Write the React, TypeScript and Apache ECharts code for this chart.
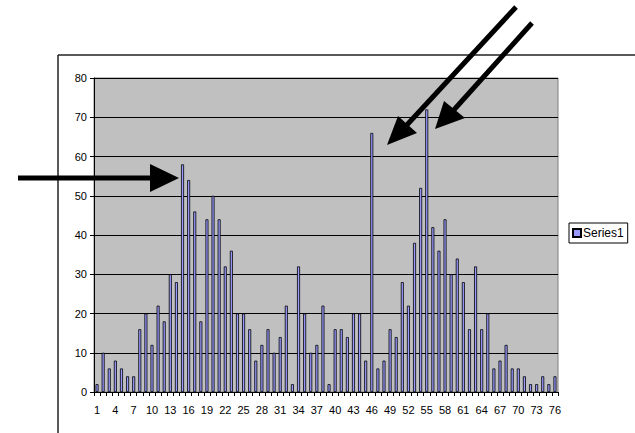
import React, { useEffect, useRef } from "react";
import * as echarts from "echarts";

const categories: string[] = Array.from({ length: 76 }, (_, i) => String(i + 1));
const seriesName = "Series1";
const series1: number[] = [
  2, 10, 6, 8, 6, 4, 4, 16, 20, 12,
  22, 18, 30, 28, 58, 54, 46, 18, 44, 50,
  44, 32, 36, 20, 20, 16, 8, 12, 16, 10,
  14, 22, 2, 32, 20, 10, 12, 22, 2, 16,
  16, 14, 20, 20, 8, 66, 6, 8, 16, 14,
  28, 22, 38, 52, 72, 42, 36, 44, 30, 34,
  28, 16, 32, 16, 20, 6, 8, 12, 6, 6,
  4, 2, 2, 4, 2, 4,
];
const yTicks = { min: 0, max: 80, interval: 10 };

const FONT = "Liberation Sans";

export default function App() {
  const ref = useRef<HTMLDivElement>(null);
  useEffect(() => {
    if (!ref.current) return;
    const chart = echarts.init(ref.current, undefined, { renderer: "svg" });
    chart.setOption({
      animation: false,
      backgroundColor: "#ffffff",
      textStyle: { fontFamily: FONT },
      grid: {
        left: 94,
        top: 78,
        width: 464,
        height: 314,
        show: true,
        backgroundColor: "#c0c0c0",
        borderColor: "#808080",
        borderWidth: 1,
      },
      legend: {
        show: true,
        left: 569,
        top: 223,
        orient: "vertical",
        borderColor: "#000",
        borderWidth: 1,
        padding: [4, 4, 4, 3],
        itemWidth: 8,
        itemHeight: 8,
        itemGap: 2,
        icon: "rect",
        backgroundColor: "#fff",
        textStyle: { fontFamily: FONT, fontSize: 12, color: "#000", padding: [0, 0, 0, -3] },
        data: [seriesName],
      },
      xAxis: {
        type: "category",
        data: categories,
        boundaryGap: true,
        axisLine: { show: true, lineStyle: { color: "#000", width: 1 } },
        axisTick: { show: true, interval: 0, length: 4, lineStyle: { color: "#000" } },
        axisLabel: {
          interval: 2,
          fontFamily: FONT,
          fontSize: 11,
          color: "#000",
          margin: 12,
        },
        splitLine: { show: false },
      },
      yAxis: {
        type: "value",
        min: yTicks.min,
        max: yTicks.max,
        interval: yTicks.interval,
        axisLine: { show: true, lineStyle: { color: "#000", width: 1 } },
        axisTick: { show: true, length: 4, lineStyle: { color: "#000" } },
        axisLabel: { fontFamily: FONT, fontSize: 11, color: "#000", margin: 7 },
        splitLine: { show: true, lineStyle: { color: "#000", width: 1 } },
      },
      series: [
        {
          name: seriesName,
          type: "bar",
          data: series1,
          barWidth: 3,
          itemStyle: { color: "#9999ff", borderColor: "#000", borderWidth: 0.8 },
        },
      ],
      graphic: [
        { type: "line", shape: { x1: 58, y1: 55, x2: 635, y2: 55 }, style: { stroke: "#222", lineWidth: 1.5 }, z: 10 },
        { type: "line", shape: { x1: 58, y1: 55, x2: 58, y2: 433 }, style: { stroke: "#222", lineWidth: 1.5 }, z: 10 },
        // horizontal arrow
        { type: "line", shape: { x1: 18, y1: 178, x2: 152, y2: 178 }, style: { stroke: "#000", lineWidth: 5 }, z: 20 },
        { type: "polygon", shape: { points: [[150, 164], [150, 192], [179, 178]] }, style: { fill: "#000" }, z: 20 },
        // diagonal arrow A
        { type: "line", shape: { x1: 516, y1: 7, x2: 405, y2: 127 }, style: { stroke: "#000", lineWidth: 5 }, z: 20 },
        { type: "polygon", shape: { points: [[387, 145], [398, 116], [417, 133]] }, style: { fill: "#000" }, z: 20 },
        // diagonal arrow B
        { type: "line", shape: { x1: 532, y1: 23, x2: 452, y2: 112 }, style: { stroke: "#000", lineWidth: 5 }, z: 20 },
        { type: "polygon", shape: { points: [[435, 129], [444, 101], [465, 118]] }, style: { fill: "#000" }, z: 20 },
      ],
    });
    return () => chart.dispose();
  }, []);
  return <div ref={ref} style={{ width: 635, height: 433, position: "absolute", left: 0, top: 0 }} />;
}
